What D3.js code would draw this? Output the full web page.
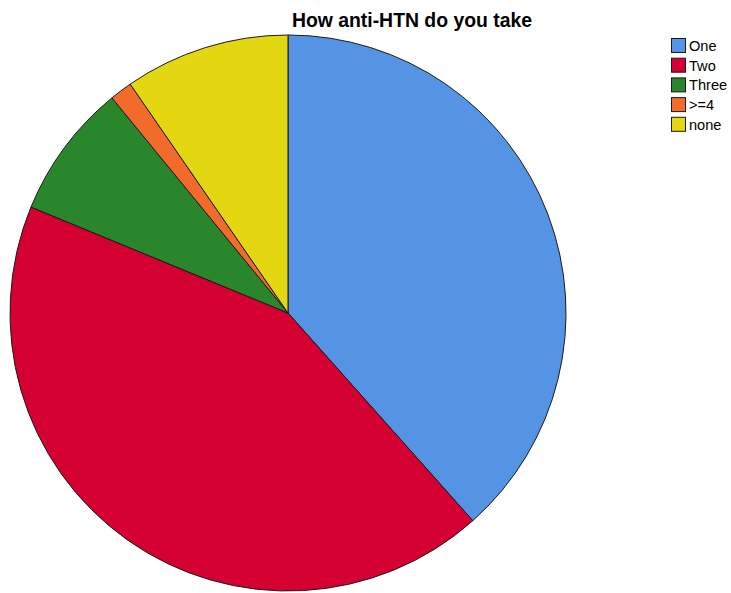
<!DOCTYPE html>
<html>
<head>
<meta charset="utf-8">
<script src="https://cdn.jsdelivr.net/npm/d3@7"></script>
<style>
html,body{margin:0;padding:0;background:#fff;}
svg{display:block;}
</style>
</head>
<body>
<svg id="chart" width="731" height="593"></svg>
<script>
const categories = ["One", "Two", "Three", ">=4", "none"];
const counts = [88, 98, 18, 3, 22];
const colors = ["#5594e4", "#d50032", "#29862a", "#f26b2b", "#e2d710"];
const title = "How anti-HTN do you take";

const svg = d3.select("#chart");
const cx = 288, cy = 313, r = 278;

const data = categories.map((c, i) => ({cat: c, value: counts[i], color: colors[i]}));
const pie = d3.pie().sort(null).value(d => d.value);
const arc = d3.arc().innerRadius(0).outerRadius(r);

svg.append("g")
  .attr("transform", `translate(${cx},${cy})`)
  .selectAll("path")
  .data(pie(data))
  .join("path")
  .attr("d", arc)
  .attr("fill", d => d.data.color)
  .attr("stroke", "#1a1a1a")
  .attr("stroke-width", 1)
  .attr("stroke-linejoin", "round");

svg.append("text")
  .attr("x", 412)
  .attr("y", 26.5)
  .attr("text-anchor", "middle")
  .attr("font-family", "Liberation Sans, Arial, sans-serif")
  .attr("font-weight", "bold")
  .attr("font-size", "19.4px")
  .attr("fill", "#000")
  .text(title);

const legend = svg.append("g").attr("transform", "translate(671,38)");
const rowH = 19.7;
const items = legend.selectAll("g").data(data).join("g")
  .attr("transform", (d, i) => `translate(0,${i * rowH})`);
items.append("rect")
  .attr("x", 0.5).attr("y", 0.5)
  .attr("width", 14).attr("height", 14)
  .attr("fill", d => d.color)
  .attr("stroke", "#1a1a1a")
  .attr("stroke-width", 1);
items.append("text")
  .attr("x", 18)
  .attr("y", 12.8)
  .attr("font-family", "Liberation Sans, Arial, sans-serif")
  .attr("font-size", "14.6px")
  .attr("fill", "#000")
  .text(d => d.cat);
</script>
</body>
</html>
